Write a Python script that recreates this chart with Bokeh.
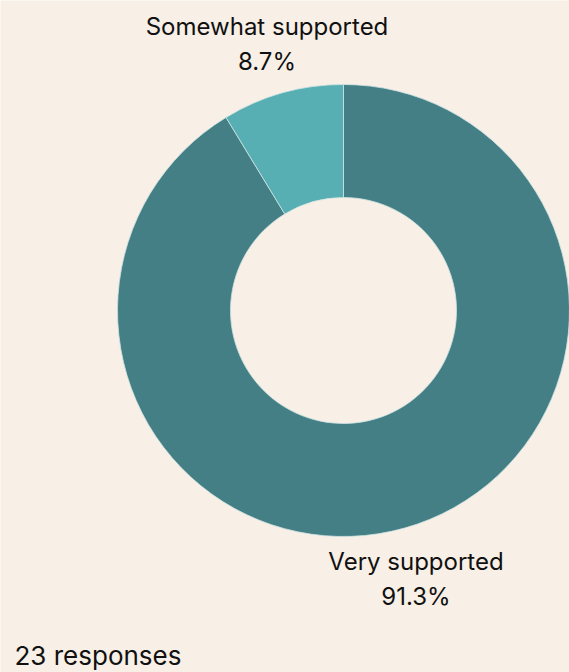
import math
from bokeh.plotting import figure
from bokeh.models import Range1d
from bokeh.core.properties import value
from bokeh.embed import file_html
from bokeh.resources import INLINE

categories = ["Very supported", "Somewhat supported"]
shares = [91.3, 8.7]
colors = ["#437f85", "#57afb4"]
total_responses = 23

W, H = 569, 672
BG = "#f8efe6"
p = figure(width=W, height=H, x_range=Range1d(0, W), y_range=Range1d(0, H),
           output_backend="svg", toolbar_location=None, min_border=0,
           background_fill_color=BG, border_fill_color=BG, outline_line_color=None)
p.axis.visible = False
p.grid.visible = False

cx, cy = 343, H - 310
r_out, r_in = 226, 113

# slices: start at top; "Very supported" clockwise from top, "Somewhat" ends at top
top = math.pi / 2
som_ang = shares[1] / 100 * 2 * math.pi
starts = [top + som_ang, top]
ends = [top + 2 * math.pi, top + som_ang]

p.annular_wedge(x=[cx, cx], y=[cy, cy], inner_radius=r_in, outer_radius=r_out,
                start_angle=starts, end_angle=ends, fill_color=colors,
                line_color="#cfe3e3", line_width=0.8)

font = value("Inter")
lab_r = 276
for cat, s, a0, a1 in zip(categories, shares, starts, ends):
    mid = (a0 + a1) / 2
    lx = cx + lab_r * math.cos(mid) - 2
    ly = cy + lab_r * math.sin(mid)
    if math.sin(mid) > 0:
        y1, y2 = ly + 18, ly - 17
    else:
        y1, y2 = ly + 15, ly - 20
    p.text(x=[lx, lx], y=[y1, y2], text=[cat, f"{s}%"], text_font=font,
           text_font_size="24px", text_align="center", text_baseline="alphabetic",
           text_color="#111111")

p.text(x=[14], y=[17], text=[f"{total_responses} responses"], text_font=font,
       text_font_size="26px", text_align="left", text_baseline="alphabetic",
       text_color="#111111")

open("out.html", "w").write(file_html(p, INLINE))
